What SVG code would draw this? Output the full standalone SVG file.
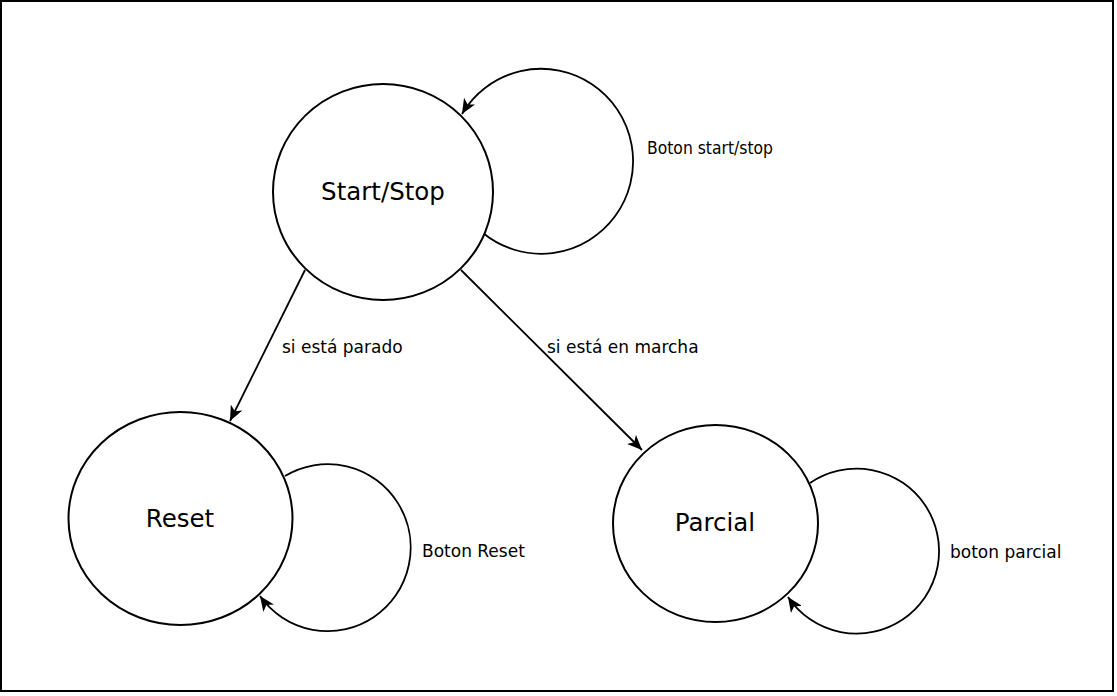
<svg xmlns="http://www.w3.org/2000/svg" width="1117" height="696" viewBox="0 0 1117 696">
<style>
.node{fill:#fff;stroke:#000;stroke-width:2}
.edge{fill:none;stroke:#000;stroke-width:1.8}
.nl{font-family:"DejaVu Sans",sans-serif;font-size:24.5px;fill:#000;text-anchor:middle}
.el{font-family:"DejaVu Sans",sans-serif;font-size:17px;fill:#000}
</style>
<defs>
<marker id="ah" markerUnits="userSpaceOnUse" markerWidth="16" markerHeight="13" refX="15" refY="6.5" orient="auto">
<path d="M0,0 L15,6.5 L0,13 L4,6.5 z" fill="#000"/>
</marker>
</defs>
<rect x="1" y="1" width="1112" height="690" fill="#fff" stroke="#000" stroke-width="2"/>
<g id="connectors">
<path class="edge" d="M483,233 A92,92.5 0 1 0 462,114" marker-end="url(#ah)"/>
<path class="edge" d="M285,476 A83,83.5 0 1 1 260,596" marker-end="url(#ah)"/>
<path class="edge" d="M810,483 A82.5,82.5 0 1 1 788,597" marker-end="url(#ah)"/>
<path class="edge" d="M305,270 L230,421" marker-end="url(#ah)"/>
<path class="edge" d="M461,270 L642,450" marker-end="url(#ah)"/>
<text class="el" x="647" y="154" textLength="126" lengthAdjust="spacingAndGlyphs">Boton start/stop</text>
<text class="el" x="282" y="353">si está parado</text>
<text class="el" x="547" y="353">si está en marcha</text>
<text class="el" x="422" y="557">Boton Reset</text>
<text class="el" x="950" y="558">boton parcial</text>
</g>
<g id="start-stop">
<ellipse class="node" cx="383" cy="192" rx="110" ry="108"/>
<text class="nl" x="383" y="200">Start/Stop</text>
</g>
<g id="reset">
<ellipse class="node" cx="180.5" cy="518.5" rx="112" ry="106.5"/>
<text class="nl" x="180" y="527">Reset</text>
</g>
<g id="parcial">
<ellipse class="node" cx="715.5" cy="523.5" rx="102.5" ry="98.5"/>
<text class="nl" x="715" y="531">Parcial</text>
</g>
</svg>
